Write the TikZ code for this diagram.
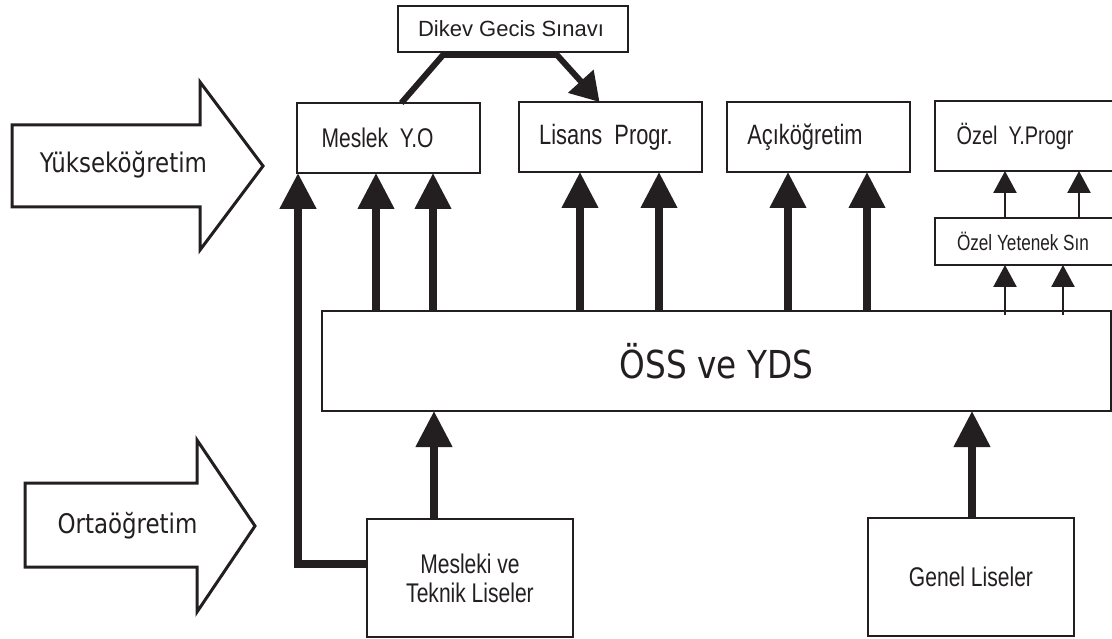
\documentclass[tikz,border=0pt]{standalone}
\usepackage{fontspec}
\setmainfont{Liberation Sans}
\newfontfamily\nar[FakeStretch=0.78]{Liberation Sans}
\newfontfamily\tah[FakeStretch=0.85]{DejaVu Sans}
\usetikzlibrary{arrows.meta,calc}
\definecolor{ink}{HTML}{231F20}
\begin{document}
\begin{tikzpicture}[x=1pt,y=-1pt,
  box/.style={draw=ink, text=ink, line width=1.8pt, inner sep=0pt, outer sep=0pt, align=center, fill=white},
  thickarrow/.style={draw=ink, line width=7.5pt, -{Triangle[length=36pt,width=35pt]}},
  thinarrow/.style={draw=ink, line width=2.5pt, -{Triangle[length=22pt,width=23pt]}},
  dikarrow/.style={draw=ink, line width=6pt, line join=miter, -{Triangle[length=28pt,width=33pt]}},
  bigarrow/.style={draw=ink, line width=3pt, line join=miter, fill=white},
  bigtext/.style={text=ink, anchor=base, inner sep=0pt, font=\tah\fontsize{27}{30}\selectfont},
]
\useasboundingbox[fill=white] (0,0) rectangle (1112,639);

% big side arrows
\draw[bigarrow] (12,125) -- (200,125) -- (200,82) -- (263,166) -- (200,250) -- (200,207) -- (12,207) -- cycle;
\node[bigtext] (yuk) at (123.5,173) {Yükseköğretim};
\draw[bigarrow] (25,483) -- (197,483) -- (197,440) -- (255,526) -- (197,612) -- (197,567) -- (25,567) -- cycle;
\node[bigtext] (orta) at (127.5,533) {Ortaöğretim};

% boxes
\node[box, minimum width=230pt, minimum height=46pt, font=\fontsize{22}{26}\selectfont] (dikev) at (513,29) {Dikev Gecis Sınavı\hspace{4pt}};
\node[box, minimum width=183pt, minimum height=70pt, font=\nar\fontsize{27}{30}\selectfont] (meslek) at (388.5,138) {Meslek~~Y.O\hspace{22pt}};
\node[box, minimum width=183pt, minimum height=70pt, font=\nar\fontsize{28}{30}\selectfont] (lisans) at (610.5,137) {Lisans~~Progr.\hspace{9pt}};
\node[box, minimum width=183pt, minimum height=70pt, font=\nar\fontsize{28}{30}\selectfont] (acik) at (818.5,137) {Açıköğretim\hspace{27pt}};
\node[box, minimum width=181pt, minimum height=70pt, font=\nar\fontsize{25.5}{30}\selectfont] (ozelp) at (1025.5,136) {Özel~~Y.Progr\hspace{21pt}};
\node[box, minimum width=181pt, minimum height=47pt, font=\nar\fontsize{22}{26}\selectfont] (ozely) at (1025.5,241.5) {Özel Yetenek Sın\hspace{5pt}};
\node[box, minimum width=789pt, minimum height=100pt, font=\tah\fontsize{38.5}{44}\selectfont] (oss) at (716.5,361) {ÖSS ve YDS};
\node[box, minimum width=206pt, minimum height=118pt, font=\nar\fontsize{27}{29}\selectfont] (mtl) at (470,578) {Mesleki ve\\Teknik Liseler};
\node[box, minimum width=206pt, minimum height=118pt, font=\nar\fontsize{27}{30}\selectfont] (genel) at (971,577) {Genel Liseler};

% column coordinates
\coordinate (a1) at (376,0);
\coordinate (a2) at (433,0);
\coordinate (a3) at (580,0);
\coordinate (a4) at (659,0);
\coordinate (a5) at (788,0);
\coordinate (a6) at (867,0);
\coordinate (b1) at (434,0);
\coordinate (b2) at (972,0);
\coordinate (lx) at (298,0);
\coordinate (s1) at (1005,0);
\coordinate (s2) at (1063,0);
\coordinate (s3) at (1079,0);

% thick arrows from OSS upward
\draw[thickarrow] (oss.north -| a1) -- (meslek.south -| a1);
\draw[thickarrow] (oss.north -| a2) -- (meslek.south -| a2);
\draw[thickarrow] (oss.north -| a3) -- (lisans.south -| a3);
\draw[thickarrow] (oss.north -| a4) -- (lisans.south -| a4);
\draw[thickarrow] (oss.north -| a5) -- (acik.south -| a5);
\draw[thickarrow] (oss.north -| a6) -- (acik.south -| a6);

% thick arrows into OSS
\draw[thickarrow] (mtl.north -| b1) -- (oss.south -| b1);
\draw[thickarrow] (genel.north -| b2) -- (oss.south -| b2);

% long left arrow
\draw[thickarrow, line width=8pt] ($(mtl.west)+(0,-14)$) -| (meslek.south -| lx);

% small arrows
\draw[thinarrow] ($(oss.north -| s1)+(0,4)$) -- (ozely.south -| s1);
\draw[thinarrow] ($(oss.north -| s2)+(0,4)$) -- (ozely.south -| s2);
\draw[thinarrow] (ozely.north -| s1) -- (ozelp.south -| s1);
\draw[thinarrow] (ozely.north -| s3) -- (ozelp.south -| s3);

% Dikev connector
\coordinate (d1) at (443,55);
\coordinate (d2) at (557,55);
\draw[dikarrow] ($(meslek.north west)!0.57!(meslek.north east)$) -- (d1) -- (d2) -- ($(lisans.north west)!0.44!(lisans.north east)$);
\end{tikzpicture}
\end{document}
